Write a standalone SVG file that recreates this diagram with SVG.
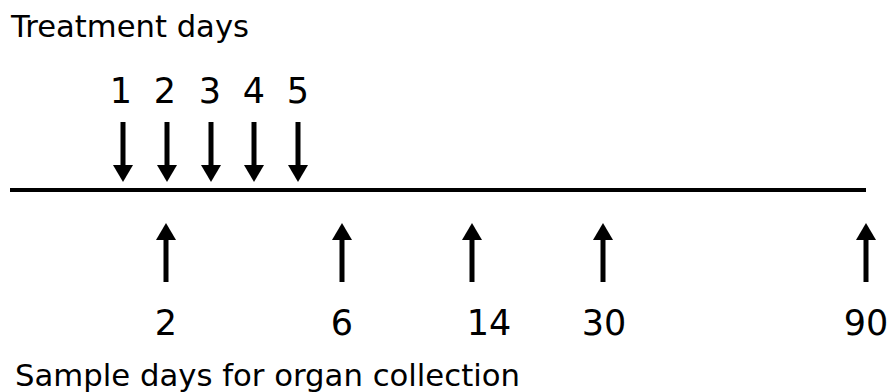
<svg xmlns="http://www.w3.org/2000/svg" width="891" height="392" viewBox="0 0 891 392">
<style>
text{font-family:"DejaVu Sans","Verdana",sans-serif;fill:#000}
.t{font-size:31px}
.n{font-size:35px;text-anchor:middle}
.a{stroke:#000;stroke-width:5;fill:none}
</style>
<defs>
<marker id="ah" markerWidth="4" markerHeight="4" refX="0" refY="2" orient="auto" markerUnits="strokeWidth" viewBox="0 0 4 4">
<path d="M0,0 L3.4,2 L0,4 Z" fill="#000"/>
</marker>
</defs>
<rect width="891" height="392" fill="#fff"/>
<g id="title-top"><text class="t" x="11" y="37" textLength="238" lengthAdjust="spacingAndGlyphs">Treatment days</text></g>
<g id="title-bottom"><text class="t" x="15" y="386" textLength="505" lengthAdjust="spacingAndGlyphs">Sample days for organ collection</text></g>
<g id="timeline"><line x1="10" y1="190" x2="866" y2="190" stroke="#000" stroke-width="4"/></g>
<g id="treat-labels">
<text class="n" x="121" y="103">1</text>
<text class="n" x="165" y="103">2</text>
<text class="n" x="210" y="103">3</text>
<text class="n" x="254" y="103">4</text>
<text class="n" x="298" y="103">5</text>
</g>
<g id="sample-labels">
<text class="n" x="166" y="335">2</text>
<text class="n" x="342" y="335">6</text>
<text class="n" x="489" y="335">14</text>
<text class="n" x="604" y="335">30</text>
<text class="n" x="866" y="335">90</text>
</g>
<g id="connectors">
<line class="a" x1="123" y1="122" x2="123" y2="165" marker-end="url(#ah)"/>
<line class="a" x1="167" y1="122" x2="167" y2="165" marker-end="url(#ah)"/>
<line class="a" x1="211" y1="122" x2="211" y2="165" marker-end="url(#ah)"/>
<line class="a" x1="254" y1="122" x2="254" y2="165" marker-end="url(#ah)"/>
<line class="a" x1="298" y1="122" x2="298" y2="165" marker-end="url(#ah)"/>
<line class="a" x1="166" y1="282" x2="166" y2="240" marker-end="url(#ah)"/>
<line class="a" x1="342" y1="282" x2="342" y2="240" marker-end="url(#ah)"/>
<line class="a" x1="472" y1="282" x2="472" y2="240" marker-end="url(#ah)"/>
<line class="a" x1="603" y1="282" x2="603" y2="240" marker-end="url(#ah)"/>
<line class="a" x1="866" y1="282" x2="866" y2="240" marker-end="url(#ah)"/>
</g>
</svg>
